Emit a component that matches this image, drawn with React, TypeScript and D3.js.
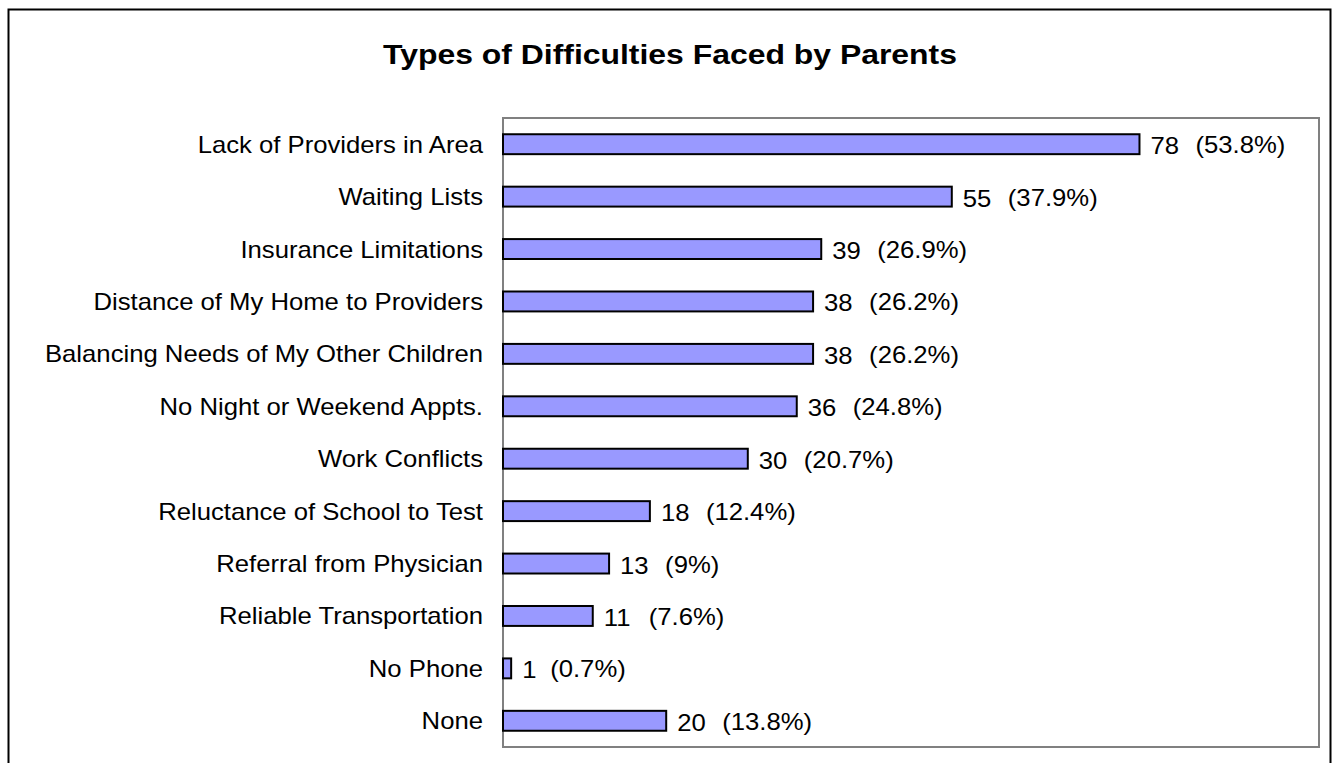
import React from "react";
import * as d3 from "d3";

const title = "Types of Difficulties Faced by Parents";
const categories = [
  "Lack of Providers in Area",
  "Waiting Lists",
  "Insurance Limitations",
  "Distance of My Home to Providers",
  "Balancing Needs of My Other Children",
  "No Night or Weekend Appts.",
  "Work Conflicts",
  "Reluctance of School to Test",
  "Referral from Physician",
  "Reliable Transportation",
  "No Phone",
  "None",
];
const counts = [78, 55, 39, 38, 38, 36, 30, 18, 13, 11, 1, 20];
const percents = ["53.8%", "37.9%", "26.9%", "26.2%", "26.2%", "24.8%", "20.7%", "12.4%", "9%", "7.6%", "0.7%", "13.8%"];
const xDomain = [0, 100];

const FONT = "'Liberation Sans', Arial, Helvetica, sans-serif";
const SX = 1.07;

export default function App() {
  const plot = { left: 503, right: 1319, top: 118, bottom: 747 };
  const x = d3.scaleLinear().domain(xDomain).range([plot.left, plot.right]);
  const y = d3
    .scaleBand<string>()
    .domain(categories)
    .range([plot.top, plot.bottom])
    .paddingInner(0.62)
    .paddingOuter(0.31);
  const bw = y.bandwidth();

  return (
    <svg
      width={1335}
      height={763}
      style={{ position: "absolute", left: 0, top: 0, background: "#fff" }}
      fontFamily={FONT}
    >
      <rect x={0} y={0} width={1335} height={763} fill="#fff" />
      <rect x={8.5} y={9.5} width={1322} height={800} fill="#fff" stroke="#000" strokeWidth={2} />
      <text
        transform={`translate(670,64) scale(1.14,1)`}
        textAnchor="middle"
        fontSize={28}
        fontWeight="bold"
        fill="#000"
      >
        {title}
      </text>
      <rect
        x={plot.left}
        y={plot.top}
        width={plot.right - plot.left}
        height={plot.bottom - plot.top}
        fill="#fff"
        stroke="#808080"
        strokeWidth={2}
      />
      {categories.map((c, i) => {
        const cy = (y(c) as number) + bw / 2;
        const v = counts[i];
        const xe = x(v);
        return (
          <g key={c}>
            <rect
              x={x(0)}
              y={y(c)}
              width={xe - x(0)}
              height={bw}
              fill="#9999FF"
              stroke="#000"
              strokeWidth={2}
            />
            <text
              transform={`translate(${plot.left - 20},${cy + 8.5}) scale(${SX},1)`}
              textAnchor="end"
              fontSize={24}
              fill="#000"
            >
              {c}
            </text>
            <text
              transform={`translate(${xe + 11},${cy + 10}) scale(${SX},1)`}
              fontSize={24}
              fill="#000"
            >
              {v}
            </text>
            <text
              transform={`translate(${xe + 11 + (v < 10 ? 28 : 45)},${cy + 9}) scale(${SX},1)`}
              fontSize={24}
              fill="#000"
            >
              ({percents[i]})
            </text>
          </g>
        );
      })}
    </svg>
  );
}
